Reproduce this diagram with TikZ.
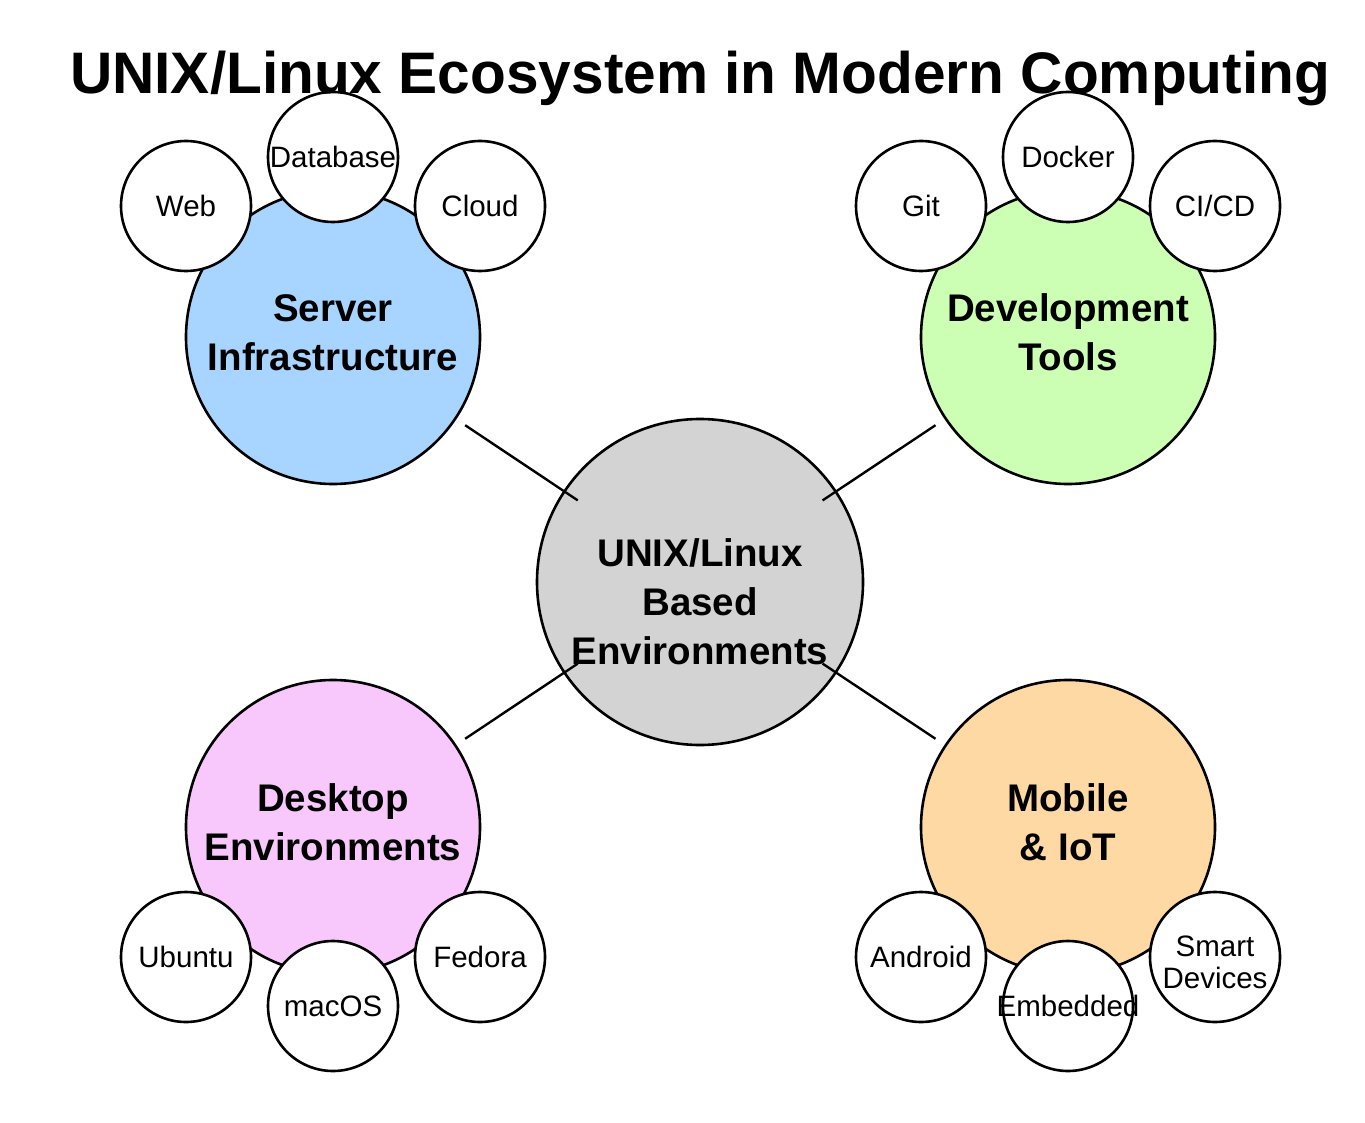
\documentclass[tikz,border=0pt]{standalone}
\usepackage{fontspec}
\setmainfont{Liberation Sans}
\usetikzlibrary{calc}
\definecolor{cblue}{HTML}{A8D5FF}
\definecolor{cgreen}{HTML}{CCFFB3}
\definecolor{cpink}{HTML}{F8C8FC}
\definecolor{corange}{HTML}{FFD9A3}
\definecolor{cgray}{HTML}{D3D3D3}
\tikzset{
  bigc/.style={circle, draw=black, line width=2.6pt, minimum size=294pt, inner sep=0pt},
  ctrc/.style={circle, draw=black, line width=2.6pt, minimum size=326pt, inner sep=0pt, fill=cgray},
  smallc/.style={circle, draw=black, line width=2.6pt, minimum size=130pt, inner sep=0pt, fill=white},
  smalllbl/.style={font=\fontsize{29.5}{32}\selectfont, align=center, inner sep=0pt},
  biglbl/.style={font=\fontsize{38.5}{49}\selectfont\bfseries, align=center},
  link/.style={line width=2.4pt, draw=black}
}
\begin{document}
\begin{tikzpicture}[x=1pt,y=-1pt]
\useasboundingbox (0,0) rectangle (1365,1123);
% main circles
\node[ctrc] (ctr) at (700,582) {};
\node[bigc, fill=cblue] (srv) at (333,337) {};
\node[bigc, fill=cgreen] (dev) at (1068,337) {};
\node[bigc, fill=cpink] (dsk) at (333,827) {};
\node[bigc, fill=corange] (mob) at (1068,827) {};
% connectors
\draw[link] ($(srv)!0.36!(ctr)$) -- ($(srv)!0.667!(ctr)$);
\draw[link] ($(dev)!0.36!(ctr)$) -- ($(dev)!0.667!(ctr)$);
\draw[link] ($(dsk)!0.36!(ctr)$) -- ($(dsk)!0.667!(ctr)$);
\draw[link] ($(mob)!0.36!(ctr)$) -- ($(mob)!0.667!(ctr)$);
% labels
\node[biglbl] (ctrlbl) at ($(ctr)+(0,20)$) {UNIX/Linux\\Based\\Environments};
\node[biglbl] (srvlbl) at ($(srv)+(0,-4.5)$) {Server\\Infrastructure};
\node[biglbl] (devlbl) at ($(dev)+(0,-4.5)$) {Development\\Tools};
\node[biglbl] (dsklbl) at ($(dsk)+(0,-4.5)$) {Desktop\\Environments};
\node[biglbl] (moblbl) at ($(mob)+(0,-4.5)$) {Mobile\\\& IoT};
% small circles
\node[smallc] (web) at (186,206) {};
\node[smallc] (db) at (333,157) {};
\node[smallc] (cloud) at (480,206) {};
\node[smallc] (git) at (921,206) {};
\node[smallc] (docker) at (1068,157) {};
\node[smallc] (cicd) at (1215,206) {};
\node[smallc] (ubuntu) at (186,957) {};
\node[smallc] (macos) at (333,1006) {};
\node[smallc] (fedora) at (480,957) {};
\node[smallc] (android) at (921,957) {};
\node[smallc] (embedded) at (1068,1006) {};
\node[smallc] (smart) at (1215,957) {};
% small labels
\node[smalllbl] (weblbl) at (web) {Web};
\node[smalllbl] (dblbl) at (db) {Database};
\node[smalllbl] (cloudlbl) at (cloud) {Cloud};
\node[smalllbl] (gitlbl) at (git) {Git};
\node[smalllbl] (dockerlbl) at (docker) {Docker};
\node[smalllbl] (cicdlbl) at (cicd) {CI/CD};
\node[smalllbl] (ubuntulbl) at (ubuntu) {Ubuntu};
\node[smalllbl] (macoslbl) at (macos) {macOS};
\node[smalllbl] (fedoralbl) at (fedora) {Fedora};
\node[smalllbl] (androidlbl) at (android) {Android};
\node[smalllbl] (embeddedlbl) at (embedded) {Embedded};
\node[smalllbl] (smartlbl) at ($(smart)+(0,5)$) {Smart\\Devices};
% title
\node[anchor=base, font=\fontsize{58.6}{70}\selectfont\bfseries] (title) at (700,94) {UNIX/Linux Ecosystem in Modern Computing};
\end{tikzpicture}
\end{document}
